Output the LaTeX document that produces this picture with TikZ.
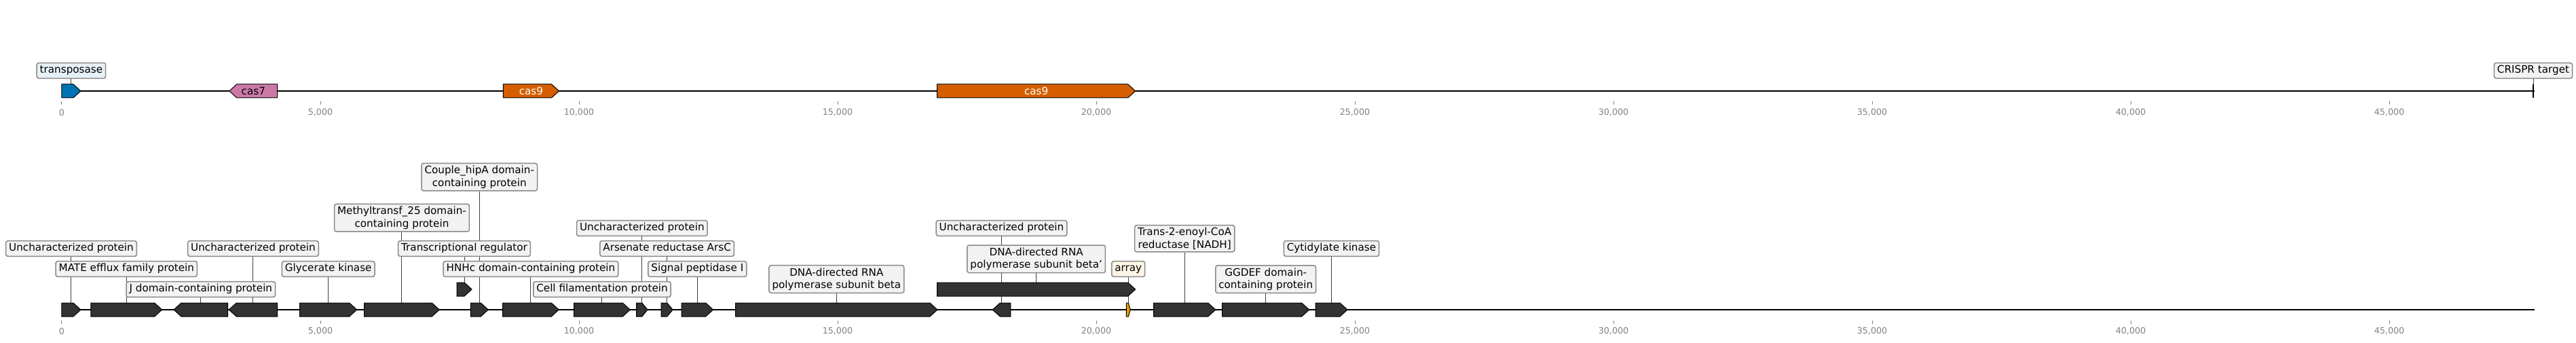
\documentclass[tikz,border=0pt]{standalone}
\usepackage{fontspec}
\setmainfont{DejaVu Sans}
\usepackage{tikz}

\definecolor{casblue}{HTML}{0072B2}
\definecolor{casorange}{HTML}{D55E00}
\definecolor{caspink}{HTML}{CC79A7}
\definecolor{arrayorange}{HTML}{E69F00}
\definecolor{genegray}{HTML}{333333}
\definecolor{boxgray}{HTML}{F2F2F2}
\definecolor{boxblue}{HTML}{E6F1F7}
\definecolor{boxcream}{HTML}{FDF5E6}
\definecolor{boxedge}{HTML}{888888}

\pgfdeclarelayer{bg}
\pgfsetlayers{bg,main}

\newcommand{\lblfont}{\fontsize{15.2}{18.24}\selectfont}
\newcommand{\tickfont}{\fontsize{12.7}{15}\selectfont}

% forward gene: [style]{name}{start kb}{end kb}{y}
\newcommand{\fgene}[5][]{%
  \pgfmathsetmacro\gs{max(#3,#4-min(0.144,(#4-#3)/2))}
  \draw[gene,#1] (#3,#5-10) -- (\gs,#5-10) -- (#4,#5) -- (\gs,#5+10) -- (#3,#5+10) -- cycle;
  \coordinate (#2) at ({(#3+#4)/2},#5-10);
}
% reverse gene
\newcommand{\rgene}[5][]{%
  \pgfmathsetmacro\gs{min(#4,#3+min(0.144,(#4-#3)/2))}
  \draw[gene,#1] (#4,#5-10) -- (\gs,#5-10) -- (#3,#5) -- (\gs,#5+10) -- (#4,#5+10) -- cycle;
  \coordinate (#2) at ({(#3+#4)/2},#5-10);
}

\begin{document}
\begin{tikzpicture}[x=76.2pt,y=-1pt,
    gene/.style={draw=black,line width=1pt,fill=genegray},
    track/.style={draw=black,line width=2.5pt},
    tick/.style={draw=gray,line width=1pt},
    ticklbl/.style={text=gray,font=\tickfont,inner sep=0pt},
    genetxt/.style={font=\lblfont,inner sep=0pt},
    box/.style={draw=boxedge,line width=1.5pt,rounded corners=3pt,fill=boxgray,
        inner xsep=4.5pt,inner ysep=3.8pt,font=\lblfont},
    lbl/.style={box,text height=11.55pt,text depth=3.65pt},
    lbltwo/.style={box,align=center},
    link/.style={draw=black!75,line width=1pt}]

\useasboundingbox (-1.1942,0) rectangle (48.609,505);

\begin{pgfonlayer}{bg}
    \draw[track] (0,134) -- (47.808,134);
    \draw[track] (0,456) -- (47.808,456);
\end{pgfonlayer}

% axis ticks
\foreach \k in {0,5,...,45} {
    \draw[tick] (\k,149.5) -- (\k,154);
    \draw[tick] (\k,472) -- (\k,477);
    \node[ticklbl] (tt\k) at (\k,166) {\ifnum\k=0 0\else\k,000\fi};
    \node[ticklbl] (bt\k) at (\k,487.7) {\ifnum\k=0 0\else\k,000\fi};
}

% top track
\fgene[fill=casblue]{tnp}{0}{0.367}{134}
\rgene[fill=caspink]{cas7}{3.24}{4.169}{134}
\fgene[fill=casorange]{cas9a}{8.534}{9.613}{134}
\fgene[fill=casorange]{cas9b}{16.925}{20.757}{134}
\node[genetxt] (cas7t) at (3.705,134) {cas7};
\node[genetxt,white] (cas9at) at (9.074,134) {cas9};
\node[genetxt,white] (cas9bt) at (18.841,134) {cas9};
\draw[line width=2.5pt] (47.782,124) -- (47.782,144);
\coordinate (crt) at (47.782,124);

\node[lbl,fill=boxblue] (ltnp) at (tnp |- 0,104) {transposase};
\node[lbl] (lcrt) at (crt |- 0,104) {CRISPR target};

% bottom track
\fgene{g1}{0}{0.367}{456}
\fgene{g2}{0.564}{1.938}{456}
\rgene{g3}{2.165}{3.211}{456}
\rgene{g4}{3.232}{4.169}{456}
\fgene{g5}{4.602}{5.705}{456}
\fgene{g6}{5.849}{7.300}{456}
\fgene{g7}{7.638}{7.927}{426}
\fgene{g8}{7.904}{8.245}{456}
\fgene{g9}{8.526}{9.610}{456}
\fgene{g10}{9.904}{10.988}{456}
\fgene{g11}{11.112}{11.325}{456}
\fgene{g12}{11.588}{11.815}{456}
\fgene{g13}{11.982}{12.594}{456}
\fgene{g14}{13.028}{16.929}{456}
\rgene{g15}{17.996}{18.343}{456}
\fgene{g16}{16.925}{20.757}{426}
\fgene[fill=arrayorange]{arr}{20.581}{20.660}{456}
\fgene{g17}{21.111}{22.306}{456}
\fgene{g18}{22.437}{24.117}{456}
\fgene{g19}{24.239}{24.856}{456}

\node[lbl] (lg1) at (g1 |- 0,366) {Uncharacterized protein\ };
\node[lbl] (lg2) at (g2 |- 0,396) {MATE efflux family protein\ };
\node[lbl] (lg3) at (g3 |- 0,426) {J domain-containing protein\ };
\node[lbl] (lg4) at (g4 |- 0,366) {Uncharacterized protein\ };
\node[lbl] (lg5) at (g5 |- 0,396) {Glycerate kinase\ };
\node[lbltwo] (lg6) at (g6 |- 0,320.7) {Methyltransf\_25 domain-\\containing protein};
\node[lbl] (lg7) at (g7 |- 0,366) {Transcriptional regulator\ };
\node[lbltwo] (lg8) at (g8 |- 0,260.7) {Couple\_hipA domain-\\containing protein};
\node[lbl] (lg9) at (g9 |- 0,396) {HNHc domain-containing protein\ };
\node[lbl] (lg10) at (g10 |- 0,426) {Cell filamentation protein\ };
\node[lbl] (lg11) at (g11 |- 0,336) {Uncharacterized protein\ };
\node[lbl] (lg12) at (g12 |- 0,366) {Arsenate reductase ArsC\ };
\node[lbl] (lg13) at (g13 |- 0,396) {Signal peptidase I\ };
\node[lbltwo] (lg14) at (g14 |- 0,411) {DNA-directed RNA\\polymerase subunit beta};
\node[lbl] (lg15) at (g15 |- 0,336) {Uncharacterized protein\ };
\node[lbltwo] (lg16) at (g16 |- 0,381.3) {DNA-directed RNA\\polymerase subunit beta'};
\node[lbl,fill=boxcream] (larr) at (arr |- 0,396) {array};
\node[lbltwo] (lg17) at (g17 |- 0,351.2) {Trans-2-enoyl-CoA\\reductase [NADH]};
\node[lbltwo] (lg18) at (g18 |- 0,411.2) {GGDEF domain-\\containing protein};
\node[lbl] (lg19) at (g19 |- 0,366) {Cytidylate kinase\ };

\begin{pgfonlayer}{bg}
    \foreach \g in {tnp,crt,g1,g2,g3,g4,g5,g6,g7,g8,g9,g10,g11,g12,g13,g14,g15,g16,arr,g17,g18,g19}
        \draw[link] (l\g) -- (\g);
\end{pgfonlayer}

\end{tikzpicture}
\end{document}
